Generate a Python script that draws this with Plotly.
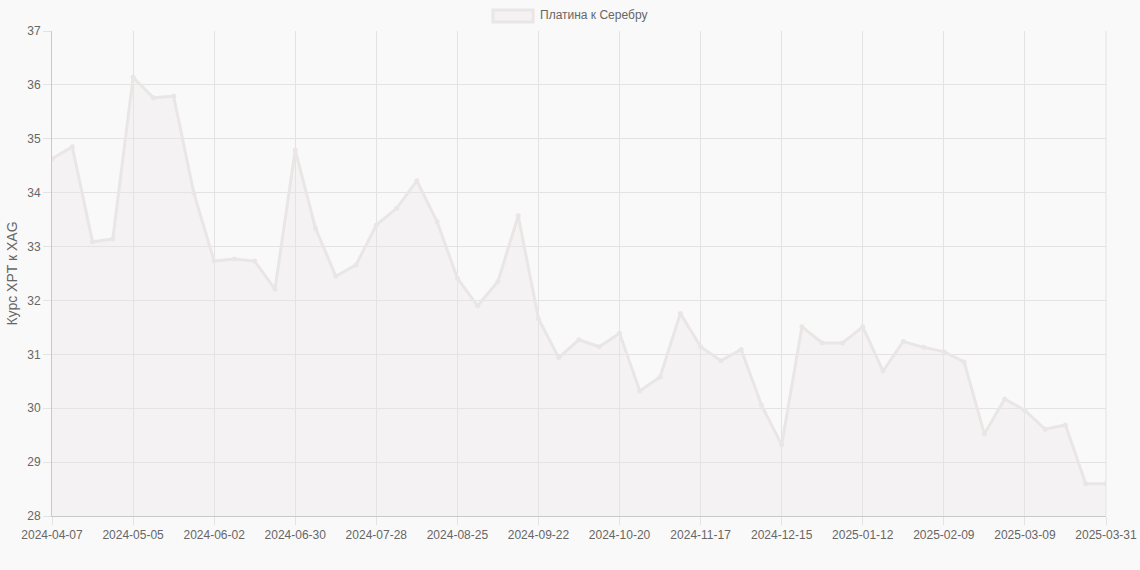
import plotly.graph_objects as go

dates = [
    "2024-04-07", "2024-04-14", "2024-04-21", "2024-04-28", "2024-05-05", "2024-05-12",
    "2024-05-19", "2024-05-26", "2024-06-02", "2024-06-09", "2024-06-16", "2024-06-23",
    "2024-06-30", "2024-07-07", "2024-07-14", "2024-07-21", "2024-07-28", "2024-08-04",
    "2024-08-11", "2024-08-18", "2024-08-25", "2024-09-01", "2024-09-08", "2024-09-15",
    "2024-09-22", "2024-09-29", "2024-10-06", "2024-10-13", "2024-10-20", "2024-10-27",
    "2024-11-03", "2024-11-10", "2024-11-17", "2024-11-24", "2024-12-01", "2024-12-08",
    "2024-12-15", "2024-12-22", "2024-12-29", "2025-01-05", "2025-01-12", "2025-01-19",
    "2025-01-26", "2025-02-02", "2025-02-09", "2025-02-16", "2025-02-23", "2025-03-02",
    "2025-03-09", "2025-03-16", "2025-03-23", "2025-03-30", "2025-03-31",
]

ratio = [
    34.63, 34.85, 33.09, 33.14, 36.14, 35.76, 35.79, 33.99, 32.73, 32.77,
    32.73, 32.21, 34.79, 33.34, 32.45, 32.66, 33.40, 33.71, 34.22, 33.46,
    32.41, 31.90, 32.35, 33.57, 31.66, 30.94, 31.27, 31.14, 31.39, 30.32,
    30.58, 31.76, 31.14, 30.88, 31.09, 30.06, 29.32, 31.51, 31.21, 31.21,
    31.51, 30.69, 31.24, 31.13, 31.05, 30.86, 29.52, 30.17, 29.96, 29.61,
    29.69, 28.60, 28.60,
]

tick_labels = [dates[i] for i in range(0, len(dates), 4)] + [dates[-1]]

series_name = "Платина к Серебру"
y_title = "Курс XPT к XAG"

line_color = "#eae6e6"
fill_color = "rgba(236,226,230,0.28)"
grid_color = "#e3e3e3"
font = dict(family="Liberation Sans, Arial, Helvetica, sans-serif", size=12, color="#666666")

fig = go.Figure()
fig.add_trace(go.Scatter(
    x=dates, y=ratio, name=series_name,
    mode="lines+markers",
    line=dict(color=line_color, width=3),
    marker=dict(color=line_color, size=5),
    fill="tozeroy", fillcolor=fill_color,
    showlegend=False,
))

fig.update_layout(
    width=1140, height=570,
    margin=dict(l=52, r=34, t=31, b=54, autoexpand=False),
    paper_bgcolor="#f9f9f9", plot_bgcolor="#f9f9f9",
    font=font,
    xaxis=dict(
        type="category", range=[0, len(dates) - 1],
        tickmode="array", tickvals=tick_labels, ticktext=tick_labels,
        showgrid=True, gridcolor=grid_color, gridwidth=1,
        ticks="outside", ticklen=8, tickcolor=grid_color,
        showline=True, linecolor="#c9c9c9", linewidth=1,
        tickangle=0, zeroline=False, automargin=False,
    ),
    yaxis=dict(
        range=[28, 37], dtick=1, tick0=28,
        showgrid=True, gridcolor=grid_color, gridwidth=1,
        ticks="outside", ticklen=8, tickcolor=grid_color,
        showline=True, linecolor="#c9c9c9", linewidth=1,
        zeroline=False, automargin=False,
        title=dict(text=y_title, standoff=6, font=dict(size=14, color="#666666")),
    ),
    shapes=[
        dict(type="rect", xref="paper", yref="paper",
             x0=(493 - 52) / 1054, x1=(533 - 52) / 1054,
             y0=(570 - 22 - 54) / 485, y1=(570 - 10 - 54) / 485,
             line=dict(color=line_color, width=3), fillcolor=fill_color),
        dict(type="line", xref="paper", yref="paper", x0=1, x1=1, y0=0, y1=1,
             line=dict(color=grid_color, width=1)),
    ],
    annotations=[
        dict(text=series_name, xref="paper", yref="paper",
             x=(538 - 52) / 1054, y=(570 - 15 - 54) / 485,
             xanchor="left", yanchor="middle", showarrow=False,
             font=dict(size=12, color="#666666")),
    ],
)

fig.write_html(
    "out.html",
    config={"displayModeBar": False},
    post_script="document.body.style.margin='0';document.body.style.overflow='hidden';document.body.style.background='#f9f9f9';",
)
